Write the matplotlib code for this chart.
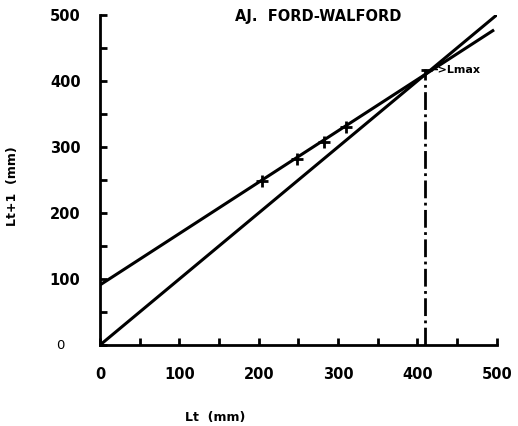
import numpy as np
import matplotlib
matplotlib.use("Agg")
import matplotlib.pyplot as plt

# observed pairs (Lt, Lt+1)
lt = np.array([204, 248, 282, 310])
lt1 = np.array([249, 282, 308, 331])

# Ford-Walford line  Lt+1 = a + b*Lt
a, b = 91.0, 0.778
lmax = a / (1 - b)
x_fit = np.array([0, 495])
diag = np.array([0, 500])

plt.rcParams["font.family"] = ["DejaVu Sans"]
plt.rcParams["font.weight"] = "bold"

fig = plt.figure(figsize=(5.18, 4.26), dpi=100)
ax = fig.add_axes([0.193, 0.19, 0.766, 0.775])

ax.plot(x_fit, a + b * x_fit, color="black", lw=2.2)
ax.plot(diag, diag, color="black", lw=2.2)
ax.plot(lt, lt1, ls="none", marker="+", ms=8, mew=2, color="black")
ax.vlines(lmax, 0, lmax + 8, colors="black", linestyles="-.", lw=2)
ax.hlines(lmax + 6, lmax - 5, lmax + 8, colors="black", lw=2)
ax.text(lmax + 10, lmax + 6, "->Lmax", fontsize=8, va="center", ha="left")

ax.set_xlim(0, 500)
ax.set_ylim(0, 500)
ax.set_xticks(np.arange(0, 501, 100))
ax.set_yticks(np.arange(0, 501, 100))
ax.set_xticks(np.arange(0, 501, 50), minor=True)
ax.set_yticks(np.arange(0, 501, 50), minor=True)
ax.tick_params(which="both", direction="in", length=5, width=2)
ax.tick_params(axis="both", which="major", labelsize=10.5, pad=16)
ax.tick_params(axis="y", which="major", pad=14)
ax.set_yticklabels(["", "100", "200", "300", "400", "500"])
# the y "0" is printed in a lighter type than the other labels
ax.text(-0.1, 0, "0", transform=ax.get_yaxis_transform(), fontsize=9.5,
        fontweight="normal", ha="center", va="center")
for lab in ax.get_xticklabels() + ax.get_yticklabels():
    lab.set_fontweight("bold")

for s in ["top", "right"]:
    ax.spines[s].set_visible(False)
for s in ["left", "bottom"]:
    ax.spines[s].set_linewidth(2)

ax.set_xlabel("Lt  (mm)", fontsize=9, fontweight="bold")
ax.xaxis.set_label_coords(0.29, -0.2)
ax.set_ylabel("Lt+1  (mm)", fontsize=9, fontweight="bold")
ax.yaxis.set_label_coords(-0.205, 0.48)
ax.text(0.55, 0.995, "AJ.  FORD-WALFORD", transform=ax.transAxes,
        fontsize=10.5, fontweight="bold", ha="center", va="center")

fig.savefig("out.png", dpi=100)
